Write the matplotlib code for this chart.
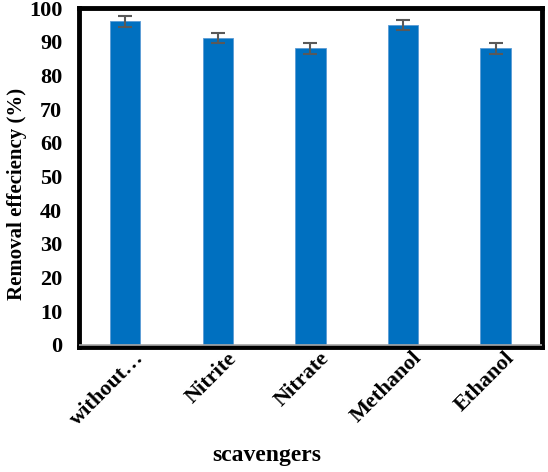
import matplotlib.pyplot as plt
from matplotlib.transforms import ScaledTranslation

scavengers = ['without…', 'Nitrite', 'Nitrate', 'Methanol', 'Ethanol']
removal = [96.0, 91.0, 88.0, 95.0, 88.0]
errors = [1.5, 1.5, 1.5, 1.5, 1.5]

plt.rcParams['font.family'] = ['Liberation Serif', 'DejaVu Serif']
plt.rcParams['font.weight'] = 'bold'

fig = plt.figure(figsize=(5.48, 4.72), dpi=100)
ax = fig.add_axes([0.144, 0.265, 0.845, 0.718])

x = range(len(scavengers))
ax.bar(x, removal, width=0.33, color='#0070C0', edgecolor='#5B9BD5', linewidth=0.6,
       yerr=errors, error_kw=dict(ecolor='#595959', elinewidth=1.5, capsize=5, capthick=1.5),
       zorder=2)
ax.axhline(0, color='#A6A6A6', linewidth=1.2, zorder=3)

ax.set_xlim(-0.5, len(scavengers) - 0.5)
ax.set_ylim(-0.6, 100)
ax.set_yticks(range(0, 101, 10))
ax.set_xticks(list(x))
ax.set_xticklabels(scavengers, rotation=45, ha='right', va='center',
                   rotation_mode='anchor', fontsize=16, fontweight='bold')
ax.tick_params(axis='both', length=0, labelsize=16)
ax.tick_params(axis='x', pad=6)
ax.tick_params(axis='y', pad=12)
for lab in ax.get_yticklabels():
    lab.set_fontweight('bold')
shift = ScaledTranslation(0.16, 0, fig.dpi_scale_trans)
for lab in ax.get_xticklabels():
    lab.set_transform(lab.get_transform() + shift)

for s in ax.spines.values():
    s.set_linewidth(3.5)
    s.set_color('black')

ax.set_ylabel('Removal effeciency (%)', fontsize=15, fontweight='bold')
ax.yaxis.set_label_coords(-0.112, 0.45)
ax.set_xlabel('scavengers', fontsize=17, fontweight='bold')
ax.xaxis.set_label_coords(0.405, -0.289)

fig.savefig('out.png', dpi=100)
